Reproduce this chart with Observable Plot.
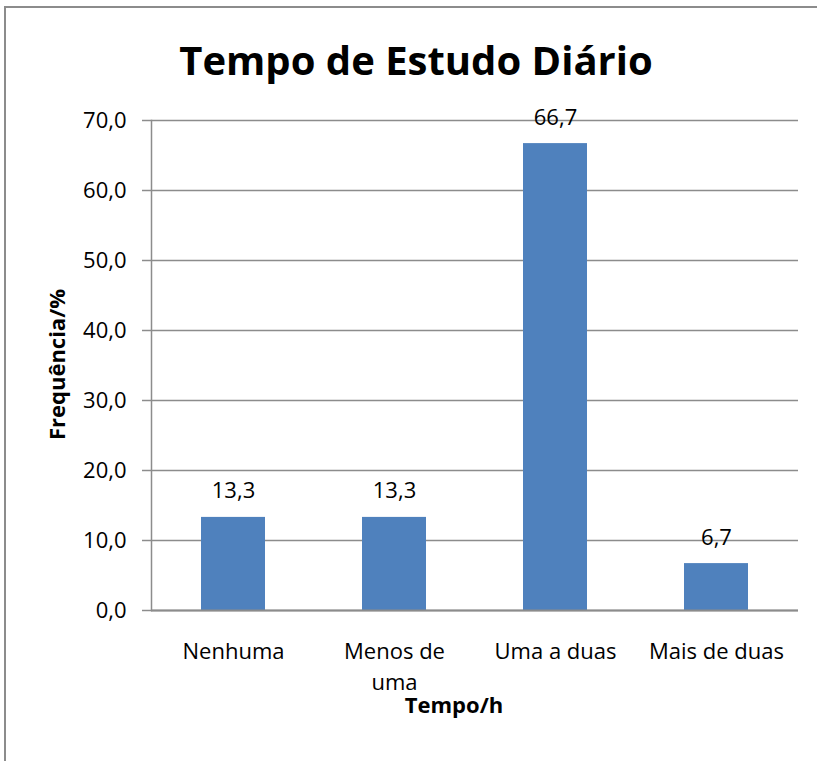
<!DOCTYPE html>
<html>
<head>
<meta charset="utf-8">
<script src="https://cdn.jsdelivr.net/npm/d3@7"></script>
<script src="https://cdn.jsdelivr.net/npm/@observablehq/plot@0.6"></script>
<style>
  html, body { margin: 0; padding: 0; background: #fff; }
  #wrap { position: relative; width: 817px; height: 761px; overflow: hidden; }
  #border { position: absolute; left: 4px; top: 6px; right: -10px; bottom: -10px;
            border-left: 2px solid #8c8c8c; border-top: 2px solid #8c8c8c; pointer-events: none; }
  #chart { position: absolute; left: 0; top: 0; }
</style>
</head>
<body>
<div id="wrap"><div id="chart"></div><div id="border"></div></div>
<script>
const categories = ["Nenhuma", "Menos de uma", "Uma a duas", "Mais de duas"];
const tickLabels = ["Nenhuma", "Menos de\numa", "Uma a duas", "Mais de duas"];
const values = [13.3, 13.3, 66.7, 6.7];
const yTicks = [0, 10, 20, 30, 40, 50, 60, 70];
const title = "Tempo de Estudo Diário";
const xTitle = "Tempo/h";
const yTitle = "Frequência/%";

const data = categories.map((c, i) => ({cat: c, val: values[i]}));
const fmt = d => d.toFixed(1).replace(".", ",");
const font = "'Open Sans', sans-serif";
const grid = "#8c8c8c";

const chart = Plot.plot({
  width: 817,
  height: 761,
  marginLeft: 151,
  marginRight: 19,
  marginTop: 120,
  marginBottom: 151,
  style: {fontFamily: font, fontSize: "22px", color: "#000", background: "transparent"},
  x: {type: "band", domain: categories, paddingInner: 0.604, paddingOuter: 0.302, axis: null},
  y: {domain: [0, 70], axis: null},
  marks: [
    Plot.gridY(yTicks, {stroke: grid, strokeOpacity: 1, strokeWidth: 1.5}),
    Plot.barY(data, {x: "cat", y: "val", fill: "#4F81BD"}),
    Plot.axisY(yTicks, {tickSize: 9, tickPadding: 16, tickFormat: fmt, stroke: grid, strokeWidth: 1.5, fontSize: 22, label: null}),
    Plot.frame({anchor: "left", stroke: grid, strokeWidth: 1.5}),
    Plot.ruleY([0], {stroke: grid, strokeWidth: 2}),
    Plot.axisX({tickSize: 0, tickPadding: 26, tickFormat: d => tickLabels[categories.indexOf(d)], fontSize: 22, label: null, lineHeight: 1.41}),
    Plot.text(data, {x: "cat", y: "val", text: d => fmt(d.val), dy: -19, lineAnchor: "bottom", fontSize: 22, fill: "#000"}),
    Plot.text([title], {frameAnchor: "top", dx: -59, dy: -46, lineAnchor: "bottom", fontSize: 40, fontWeight: "bold", fill: "#000"}),
    Plot.text([xTitle], {frameAnchor: "bottom", dx: -21, dy: 102, lineAnchor: "bottom", fontSize: 22, fontWeight: "bold", fill: "#000"}),
    Plot.text([yTitle], {frameAnchor: "left", textAnchor: "middle", dx: -94, dy: -1, rotate: -90, fontSize: 22, fontWeight: "bold", fill: "#000"})
  ]
});
document.getElementById("chart").appendChild(chart);
</script>
</body>
</html>
